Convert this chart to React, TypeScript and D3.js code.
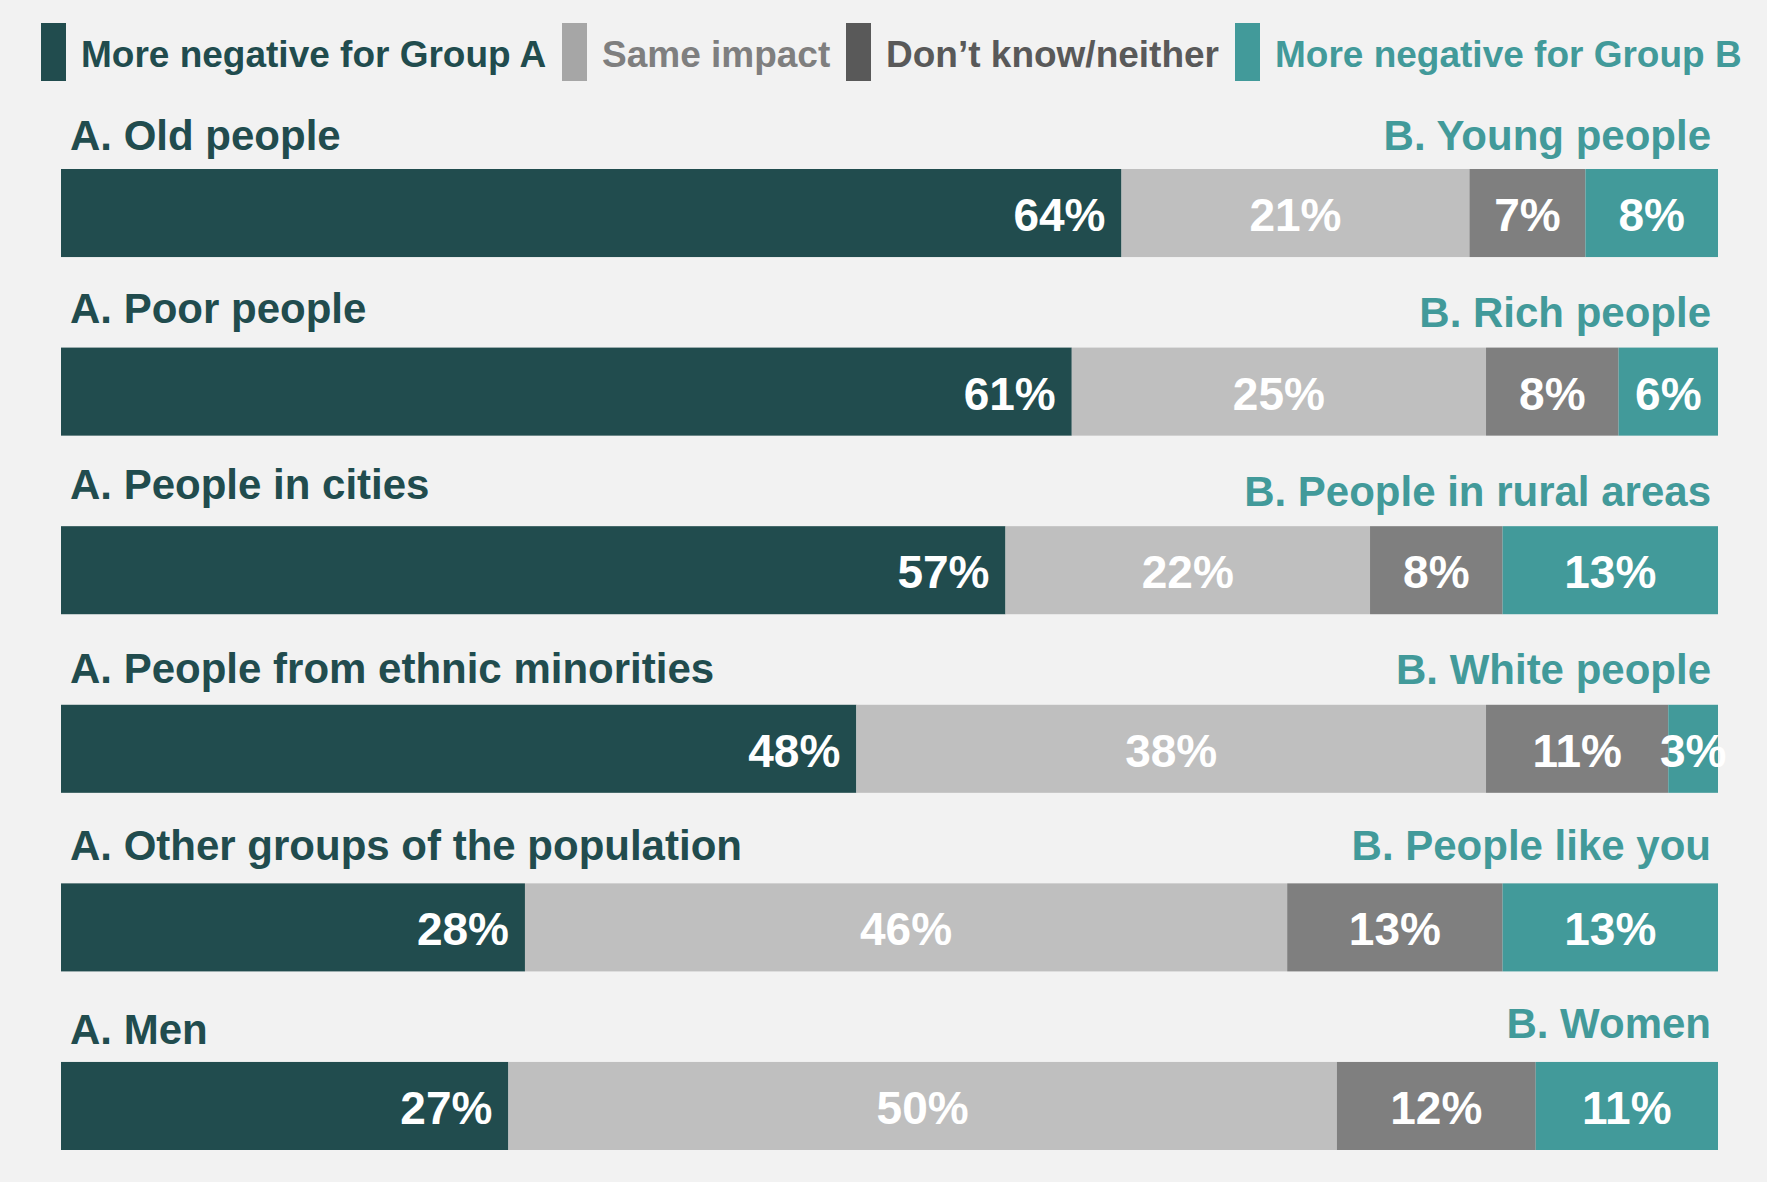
import React from 'react'
import * as d3 from 'd3'

const width = 1767
const height = 1182

const groupsA = [
  'A. Old people',
  'A. Poor people',
  'A. People in cities',
  'A. People from ethnic minorities',
  'A. Other groups of the population',
  'A. Men',
]
const groupsB = [
  'B. Young people',
  'B. Rich people',
  'B. People in rural areas',
  'B. White people',
  'B. People like you',
  'B. Women',
]
const negativeA = [64, 61, 57, 48, 28, 27]
const sameImpact = [21, 25, 22, 38, 46, 50]
const dontKnow = [7, 8, 8, 11, 13, 12]
const negativeB = [8, 6, 13, 3, 13, 11]

const seriesNames = ['More negative for Group A', 'Same impact', 'Don\u2019t know/neither', 'More negative for Group B']
const barColors = ['#214c4e', '#bfbfbf', '#7f7f7f', '#429a9a']
const swatchColors = ['#214c4e', '#a6a6a6', '#595959', '#429a9a']
const legendTextColors = ['#214c4e', '#7f7f7f', '#595959', '#429a9a']

const font = '"Liberation Sans", Arial, Helvetica, sans-serif'
const darkTeal = '#214c4e'
const teal = '#429a9a'

// layout: legend swatch left edges, and how far each row's labels sit above its bar
const legendX = [41, 562, 846, 1235]
const liftA = [19, 25, 27, 22, 23, 18]
const liftB = [19, 21, 20, 21, 23, 24]

export default function App() {
  const x = d3.scaleLinear().domain([0, 100]).range([61, 1718])
  const y = d3.scaleBand<number>()
    .domain(d3.range(groupsA.length))
    .range([169, 1150])
    .paddingInner(0.507)
    .paddingOuter(0)

  const rows = groupsA.map((a, i) => {
    const values = [negativeA[i], sameImpact[i], dontKnow[i], negativeB[i]]
    const ends = d3.cumsum(values)
    return {
      a,
      b: groupsB[i],
      segs: values.map((v, k) => ({ v, x0: x(ends[k] - v), x1: x(ends[k]) })),
    }
  })

  return (
    <svg width={width} height={height} style={{ display: 'block', background: '#f2f2f2' }} fontFamily={font} fontWeight="bold">
      <style>{`body{margin:0}`}</style>
      <rect width={width} height={height} fill="#f2f2f2" />

      {seriesNames.map((name, k) => (
        <g key={name} transform={`translate(${legendX[k]},0)`}>
          <rect x={0} y={23} width={25} height={58} fill={swatchColors[k]} />
          <text x={40} y={67} fontSize={37} fill={legendTextColors[k]}>{name}</text>
        </g>
      ))}

      {rows.map((row, i) => {
        const top = y(i) as number
        const bw = y.bandwidth()
        return (
          <g key={row.a}>
            <text x={70} y={top - liftA[i]} fontSize={42} fill={darkTeal}>{row.a}</text>
            <text x={1711} y={top - liftB[i]} fontSize={42} fill={teal} textAnchor="end">{row.b}</text>
            {row.segs.map((s, k) => (
              <rect key={k} x={s.x0} y={top} width={s.x1 - s.x0} height={bw} fill={barColors[k]} />
            ))}
            {row.segs.map((s, k) => {
              const first = k === 0
              return (
                <text
                  key={'l' + k}
                  x={first ? s.x1 - 16 : (s.x0 + s.x1) / 2}
                  y={top + bw / 2 + 18}
                  fontSize={46}
                  fill="#ffffff"
                  textAnchor={first ? 'end' : 'middle'}
                >
                  {s.v}%
                </text>
              )
            })}
          </g>
        )
      })}
    </svg>
  )
}
